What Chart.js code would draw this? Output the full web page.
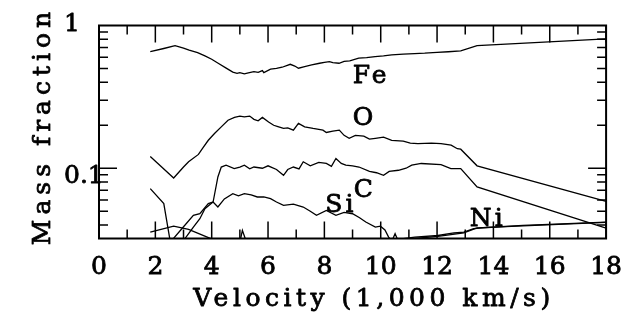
<!DOCTYPE html>
<html lang="en">
    <head>
        <meta charset="utf-8"/>
        <title>Mass fraction vs velocity</title>
        <script src="https://cdn.jsdelivr.net/npm/chart.js"></script>
        <style type="text/css">
            body { margin: 0; background: #fff; }
            canvas { display: block; }
        </style>
    </head>
    <body>
        <canvas id="myChart" width="636" height="316"></canvas>

        <script>
            // [velocity (1,000 km/s), mass fraction]
            const feData = [[1.82,0.656],[2.3,0.69],[2.7,0.722],[3.0,0.695],[3.2,0.672],[3.5,0.645],[3.76,0.612],[4.0,0.58],[4.23,0.544],[4.5,0.505],[4.75,0.471],[4.9,0.462],[5.0,0.468],[5.16,0.458],[5.3,0.466],[5.5,0.475],[5.65,0.47],[5.8,0.483],[5.85,0.468],[6.09,0.494],[6.3,0.5],[6.5,0.51],[6.79,0.535],[6.95,0.52],[7.08,0.502],[7.3,0.515],[7.55,0.53],[7.83,0.544],[8.0,0.552],[8.18,0.558],[8.3,0.55],[8.52,0.544],[8.7,0.56],[8.9,0.565],[9.22,0.59],[9.5,0.595],[9.8,0.605],[10.1,0.612],[10.39,0.622],[10.8,0.63],[11.2,0.636],[11.56,0.64],[12.0,0.648],[12.4,0.655],[12.84,0.665],[13.42,0.723],[18,0.806]];
            const oData = [[1.82,0.121],[2.65,0.0855],[3.0,0.102],[3.18,0.111],[3.53,0.125],[3.7,0.14],[3.88,0.157],[4.1,0.175],[4.34,0.195],[4.58,0.217],[4.81,0.227],[5.0,0.232],[5.16,0.229],[5.35,0.232],[5.5,0.22],[5.65,0.215],[5.8,0.227],[6.02,0.211],[6.2,0.2],[6.35,0.196],[6.55,0.19],[6.7,0.192],[6.9,0.185],[7.08,0.206],[7.3,0.195],[7.6,0.19],[7.95,0.185],[8.07,0.178],[8.3,0.182],[8.53,0.185],[8.7,0.17],[8.88,0.162],[9.1,0.17],[9.4,0.168],[9.6,0.16],[9.81,0.162],[10.1,0.165],[10.39,0.157],[10.8,0.155],[11.05,0.15],[11.32,0.149],[11.8,0.15],[12.14,0.149],[12.5,0.145],[12.72,0.137],[12.84,0.136],[13.42,0.104],[18,0.0586]];
            const cData = [[2.94,0.03],[3.35,0.0387],[3.58,0.0443],[3.76,0.052],[4.05,0.058],[4.22,0.0869],[4.34,0.102],[4.51,0.105],[4.8,0.0995],[5.0,0.102],[5.16,0.105],[5.35,0.099],[5.5,0.102],[5.8,0.1],[6.0,0.104],[6.3,0.098],[6.55,0.0893],[6.7,0.098],[6.9,0.102],[7.1,0.099],[7.25,0.111],[7.5,0.104],[7.8,0.11],[8.07,0.108],[8.25,0.103],[8.41,0.117],[8.6,0.108],[8.76,0.105],[9.0,0.104],[9.23,0.102],[9.6,0.095],[9.85,0.093],[10.1,0.0893],[10.3,0.095],[10.63,0.0968],[10.9,0.1],[11.1,0.105],[11.44,0.108],[12.14,0.106],[12.49,0.0995],[12.84,0.0995],[13.42,0.074],[18,0.038]];
            const siData = [[2.51,0.03],[2.94,0.0377],[3.35,0.0468],[3.58,0.048],[3.88,0.0565],[4.05,0.058],[4.22,0.0535],[4.45,0.061],[4.75,0.0664],[4.95,0.064],[5.16,0.0664],[5.4,0.065],[5.62,0.0629],[5.85,0.063],[6.09,0.0612],[6.3,0.058],[6.55,0.055],[6.9,0.0561],[7.25,0.0535],[7.5,0.05],[7.72,0.0468],[8.07,0.0507],[8.41,0.0468],[8.7,0.049],[9.0,0.048],[9.25,0.045],[9.47,0.042],[9.81,0.0387],[9.99,0.0393],[10.15,0.037],[10.28,0.0329],[10.4,0.031],[10.51,0.0348],[10.65,0.03]];
            const niData = [[10.3,0.029],[10.74,0.032],[11.21,0.0329],[12.03,0.0338],[12.6,0.0352],[12.95,0.0357],[13.3,0.0377],[13.65,0.0383],[15.05,0.0398],[18,0.042]];
            const ni2Data = [[10.6,0.029],[11.2,0.0322],[12.03,0.0333],[12.95,0.0352],[13.42,0.0382],[15.05,0.0395],[18,0.0418]];
            const lowAData = [[1.82,0.072],[2.3,0.0565],[2.55,0.029],[4.98,0.029],[5.09,0.0367],[5.27,0.029],[6.0,0.028]];
            const lowBData = [[1.82,0.0357],[2.65,0.0393],[3.18,0.0373],[3.99,0.032],[4.3,0.029]];

            // labels next to the curves: [text, velocity, fraction] (text baseline)
            const curveLabels = [["Fe",9.04,0.396],["O",9.04,0.2005],["Si",8.07,0.0491],["C",9.08,0.0626],["Ni",13.2,0.0397]];

            const xTicks = [0,1,2,3,4,5,6,7,8,9,10,11,12,13,14,15,16,17,18];
            const yTicks = [0.04,0.05,0.06,0.07,0.08,0.09,0.1,0.2,0.3,0.4,0.5,0.6,0.7,0.8,0.9];
            const yLabels = [["1",1,-1],["0.1",0.1,8]];

            const FONT = '"DejaVu Serif", serif';

            function line(d) {
                return {
                    data: d.map(p => ({x: p[0], y: p[1]})),
                    showLine: true,
                    borderColor: '#000',
                    borderWidth: 1.3,
                    pointRadius: 0,
                    tension: 0
                };
            }

            // fill + thin stroke, a bit heavier than the book weight
            function heavyText(ctx, s, px, py) {
                ctx.fillText(s, px, py);
                ctx.strokeText(s, px, py);
            }

            const framePlugin = {
                id: 'frame',
                afterDatasetsDraw(chart) {
                    const ctx = chart.ctx;
                    const a = chart.chartArea;
                    const x = chart.scales.x, y = chart.scales.y;
                    ctx.save();
                    ctx.strokeStyle = '#000';
                    ctx.lineWidth = 1.5;
                    ctx.beginPath();
                    xTicks.forEach(v => {
                        const px = x.getPixelForValue(v);
                        const len = v % 2 === 0 ? 17 : 9;
                        ctx.moveTo(px, a.bottom); ctx.lineTo(px, a.bottom - len);
                        ctx.moveTo(px, a.top); ctx.lineTo(px, a.top + len);
                    });
                    yTicks.forEach(v => {
                        const py = y.getPixelForValue(v);
                        const len = v === 0.1 ? 18 : 9;
                        ctx.moveTo(a.left, py); ctx.lineTo(a.left + len, py);
                        ctx.moveTo(a.right, py); ctx.lineTo(a.right - len, py);
                    });
                    ctx.stroke();
                    ctx.lineWidth = 2;
                    ctx.strokeRect(a.left, a.top, a.right - a.left, a.bottom - a.top);

                    ctx.fillStyle = '#000';
                    ctx.lineWidth = 0.8;
                    ctx.lineJoin = 'round';
                    ctx.font = '25px ' + FONT;
                    ctx.textBaseline = 'middle';
                    ctx.textAlign = 'left';
                    yLabels.forEach(l => {
                        heavyText(ctx, l[0], 64, y.getPixelForValue(l[1]) + l[2]);
                    });

                    ctx.textBaseline = 'alphabetic';
                    ctx.letterSpacing = '3px';
                    curveLabels.forEach(l => {
                        heavyText(ctx, l[0], x.getPixelForValue(l[1]) - 1, y.getPixelForValue(l[2]));
                    });

                    ctx.textAlign = 'center';
                    ctx.letterSpacing = '4.5px';
                    heavyText(ctx, 'Velocity (1,000 km/s)', 374, 306);

                    ctx.letterSpacing = '5px';
                    ctx.translate(50, 128);
                    ctx.rotate(-Math.PI / 2);
                    heavyText(ctx, 'Mass fraction', 2, 0);
                    ctx.restore();
                }
            };

            const myChart = new Chart(document.getElementById('myChart'), {
                type: 'scatter',
                data: {
                    datasets: [feData, oData, cData, siData, niData, ni2Data, lowAData, lowBData].map(line)
                },
                options: {
                    responsive: false,
                    animation: false,
                    layout: { padding: { left: 0, right: 21.5, top: 25.5, bottom: 0 } },
                    plugins: { legend: { display: false }, tooltip: { enabled: false } },
                    scales: {
                        x: {
                            type: 'linear', min: 0, max: 18,
                            grid: { display: false, drawTicks: false },
                            border: { display: false },
                            ticks: {
                                stepSize: 2, autoSkip: false, maxRotation: 0, padding: 14,
                                color: '#000', textStrokeColor: '#000', textStrokeWidth: 0.8,
                                font: { family: FONT, size: 25 }
                            },
                            afterFit(s) { s.height = 77.5; }
                        },
                        y: {
                            type: 'logarithmic', min: 0.0322, max: 1,
                            grid: { display: false, drawTicks: false },
                            border: { display: false },
                            ticks: { display: false },
                            afterFit(s) { s.width = 99; }
                        }
                    }
                },
                plugins: [framePlugin]
            });
        </script>
    </body>
</html>
